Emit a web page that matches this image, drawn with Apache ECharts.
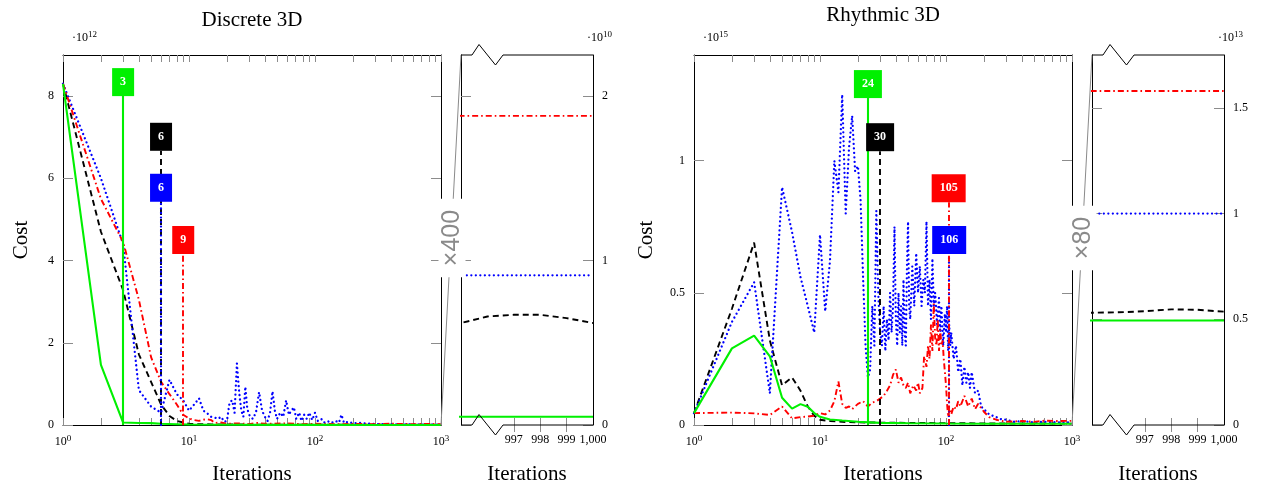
<!DOCTYPE html>
<html>
<head>
<meta charset="utf-8">
<script src="https://cdn.jsdelivr.net/npm/echarts@6/dist/echarts.min.js"></script>
<style>
  html, body { margin: 0; padding: 0; background: #fff; }
  #chart { width: 1265px; height: 492px; }
</style>
</head>
<body>
<div id="chart"></div>
<script>
// [iteration, cost]; Discrete 3D cost in 1e12, Rhythmic 3D cost in 1e15
const discreteBlack = [[1,8.3],[2,4.7],[3,3.28],[4,1.72],[5,1.05],[6,0.5],[7,0.22],[8,0.1],[9,0.06],[10,0.03],[12,0.02],[15,0.015],[20,0.012],[30,0.01],[50,0.009],[100,0.008],[300,0.007],[600,0.0065],
  [995,0.0062],[996,0.0066],[997,0.0067],[998,0.0067],[999,0.0065],[1000,0.0062]]
const discreteBlue = [[1,8.3],[2,6.0],[3,4.4],[4,0.85],[5,0.45],[6,0.3],[7,1.1],[8,0.75],[9,0.6],[10,0.35],[11,0.5],[12,0.65],[13,0.35],[14,0.28],[15,0.2],[16,0.18],[17,0.15],[18,0.2],[19,0.08],[20,0.1],
  [21,0.55],[22,0.6],[23,0.3],[24,1.5],[25,0.8],[26,0.35],[27,0.2],[28,0.93],[29,0.4],[30,0.25],[32,0.15],[34,0.3],[36,0.8],[38,0.35],[40,0.2],[42,0.1],[44,0.3],[46,0.82],[48,0.35],[50,0.15],
  [53,0.3],[56,0.2],[59,0.6],[62,0.25],[65,0.35],[68,0.43],[71,0.15],[75,0.3],[78,0.1],[82,0.25],[86,0.15],[90,0.3],[95,0.12],[100,0.3],[105,0.1],[112,0.15],[118,0.06],[125,0.1],[135,0.05],
  [145,0.1],[155,0.06],[162,0.25],[170,0.05],[185,0.08],[200,0.04],[230,0.05],[270,0.03],[320,0.02],[400,0.015],[600,0.012],[800,0.01],
  [995,0.0091],[996,0.0091],[997,0.0091],[998,0.0091],[999,0.0091],[1000,0.0091]]
const discreteRed = [[1,8.3],[2,5.5],[3,4.45],[4,3.05],[5,1.65],[6,1.05],[7,0.75],[8,0.5],[9,0.25],[10,0.16],[11,0.12],[12,0.1],[13,0.13],[14,0.14],[15,0.12],[16,0.05],[18,0.06],[20,0.03],[25,0.04],
  [30,0.02],[35,0.05],[40,0.03],[60,0.04],[80,0.02],[100,0.03],[150,0.02],[200,0.025],[300,0.02],[400,0.03],[600,0.02],[800,0.025],
  [995,0.0188],[996,0.0188],[997,0.0188],[998,0.0188],[999,0.0188],[1000,0.0188]]
const discreteGreen = [[1,8.3],[2,1.46],[3,0.06],[4,0.05],[5,0.045],[6,0.03],[8,0.02],[10,0.012],[20,0.006],[50,0.003],[100,0.002],[300,0.001],
  [995,0.0005],[996,0.0005],[997,0.0005],[998,0.0005],[999,0.0005],[1000,0.0005]]

const rhythmicBlack = [[1,0.045],[2,0.44],[3,0.69],[4,0.32],[5,0.15],[6,0.18],[7,0.13],[8,0.07],[9,0.035],[10,0.02],[12,0.015],[15,0.012],[20,0.01],[30,0.009],[50,0.008],[100,0.007],[200,0.006],[500,0.0055],
  [995,0.00531],[996,0.00533],[997,0.00538],[998,0.00547],[999,0.00545],[1000,0.00536]]
const rhythmicBlue = [[1,0.045],[2,0.39],[3,0.54],[4,0.12],[5,0.9],[6,0.73],[7,0.56],[8,0.45],[9,0.35],[10,0.72],[11,0.43],[12,0.62],[13,1.0],[14,0.88],[15,1.25],[16,0.8],[17,1.05],[18,1.17],[19,0.96],[20,0.98],
  [21,0.85],[22,0.55],[23,0.3],[24,0.18],[25,0.21],[26,0.45],[27,0.3],[28,0.81],[29,0.5],[30,0.35],[31,0.3],[32,0.45],[33,0.28],[34,0.4],[35,0.32],[36,0.5],[37,0.35],[38,0.45],[39,0.75],[40,0.4],
  [41,0.3],[42,0.5],[43,0.35],[44,0.45],[45,0.3],[46,0.55],[47,0.35],[48,0.3],[49,0.6],[50,0.77],[51,0.45],[52,0.4],[54,0.6],[56,0.45],[58,0.65],[60,0.5],[62,0.6],[64,0.45],[66,0.55],[68,0.5],
  [70,0.77],[72,0.45],[74,0.55],[76,0.4],[78,0.63],[80,0.45],[82,0.5],[85,0.38],[88,0.48],[90,0.35],[92,0.45],[95,0.3],[98,0.42],[100,0.35],[102,0.45],[104,0.28],[106,0.38],[108,0.3],[110,0.35],
  [115,0.25],[120,0.3],[125,0.2],[130,0.25],[135,0.15],[140,0.22],[145,0.16],[150,0.2],[155,0.14],[160,0.2],[170,0.12],[180,0.13],[190,0.07],[200,0.06],[220,0.04],[250,0.03],[280,0.02],[300,0.02],
  [350,0.012],[400,0.015],[500,0.01],[600,0.012],[800,0.01],
  [995,0.01],[996,0.01],[997,0.01],[998,0.01],[999,0.01],[1000,0.01]]
const rhythmicRed = [[1,0.045],[2,0.047],[3,0.044],[4,0.038],[5,0.07],[6,0.025],[7,0.03],[8,0.032],[9,0.035],[10,0.045],[11,0.04],[12,0.055],[13,0.09],[14,0.165],[15,0.08],[16,0.065],[17,0.07],[18,0.06],
  [20,0.08],[22,0.09],[24,0.07],[26,0.085],[28,0.09],[30,0.1],[32,0.11],[34,0.13],[36,0.15],[38,0.19],[40,0.21],[42,0.16],[44,0.18],[46,0.15],[48,0.14],[50,0.16],[52,0.12],[55,0.15],[58,0.13],
  [60,0.16],[62,0.12],[65,0.14],[67,0.26],[70,0.22],[72,0.3],[74,0.25],[76,0.38],[78,0.28],[80,0.46],[82,0.33],[84,0.3],[86,0.4],[88,0.28],[90,0.36],[92,0.3],[94,0.32],[96,0.25],[98,0.2],
  [100,0.15],[102,0.08],[104,0.03],[106,0.05],[108,0.06],[110,0.04],[115,0.07],[120,0.06],[125,0.09],[130,0.07],[140,0.11],[150,0.07],[160,0.1],[170,0.06],[180,0.08],[200,0.05],[220,0.03],
  [250,0.02],[300,0.012],[400,0.015],[500,0.012],[600,0.016],[800,0.015],
  [995,0.0158],[996,0.0158],[997,0.0158],[998,0.0158],[999,0.0158],[1000,0.0158]]
const rhythmicGreen = [[1,0.045],[2,0.29],[3,0.338],[4,0.26],[5,0.103],[6,0.062],[7,0.079],[8,0.069],[9,0.045],[10,0.031],[12,0.021],[15,0.017],[20,0.0125],[30,0.008],[50,0.0065],[100,0.0055],[200,0.005],[500,0.0049],
  [995,0.00494],[996,0.00494],[997,0.00494],[998,0.00494],[999,0.00494],[1000,0.00494]]

// convergence markers, order: black, blue, red, green
const discreteConv = [6, 6, 9, 3]
const discreteConvTop = [6.67, 5.43, 4.16, 8.0]
const rhythmicConv = [30, 106, 105, 24]
const rhythmicConvTop = [1.036, 0.647, 0.843, 1.237]

const discreteYTicks = [0, 2, 4, 6, 8]
const discreteInsetYTicks = [0, 0.01, 0.02]
const rhythmicYTicks = [0, 0.5, 1]
const rhythmicInsetYTicks = [0, 0.005, 0.01, 0.015]
const insetXTicks = [997, 998, 999, 1000]
const logLabels = [0, 1, 2, 3]

const FONT = "'Liberation Serif', 'Times New Roman', serif"
const SANS = "'Liberation Sans', 'DejaVu Sans', sans-serif"
const TICK = '#8c8c8c'

const grids = [
  { left: 63, top: 55, width: 378, height: 370 },
  { left: 461, top: 55, width: 132, height: 370 },
  { left: 694, top: 55, width: 378, height: 370 },
  { left: 1092, top: 55, width: 132, height: 370 }
]

// log-spaced minor tick positions (in decades)
const logTicks = []
for (let n = 0; n < 3; n++) {
  for (let k = 1; k < 10; k++) logTicks.push(n + Math.log10(k))
}
logTicks.push(3)

const supRich = { sup: { fontSize: 9, fontFamily: FONT, padding: [0, 0, 7, 0], color: '#000' } }
const nameStyle = { fontSize: 21, fontFamily: FONT, color: '#000' }

function frameAxis(grid, position, min, max, ticks, labels, formatter, extra) {
  return Object.assign({
    type: 'value', gridIndex: grid, position, min, max,
    axisLine: { show: true, onZero: false, lineStyle: { color: '#000', width: 1 } },
    axisTick: { show: true, inside: true, length: 8, customValues: ticks, lineStyle: { color: TICK } },
    axisLabel: labels
      ? { show: true, customValues: labels, formatter, margin: 9, color: '#000', fontFamily: FONT, fontSize: 12, rich: supRich }
      : { show: false },
    splitLine: { show: false }
  }, extra || {})
}

const logFmt = (v) => '10{sup|' + Math.round(v) + '}'
const xName = { name: 'Iterations', nameLocation: 'middle', nameGap: 39, nameTextStyle: nameStyle }
const insetFmt = (v) => (v === 1000 ? '1,000' : String(v))

const xAxis = [
  { type: 'log', gridIndex: 0, min: 1, max: 1000, logBase: 10, show: false },
  frameAxis(0, 'bottom', 0, 3, logTicks, logLabels, logFmt, xName),
  frameAxis(0, 'top', 0, 3, logTicks, null),
  frameAxis(1, 'bottom', 995, 1000, [997, 998, 999], insetXTicks, insetFmt, Object.assign({ axisLine: { show: false } }, xName)),
  frameAxis(1, 'top', 995, 1000, [997, 998, 999], null, null, { axisLine: { show: false } }),
  { type: 'log', gridIndex: 2, min: 1, max: 1000, logBase: 10, show: false },
  frameAxis(2, 'bottom', 0, 3, logTicks, logLabels, logFmt, xName),
  frameAxis(2, 'top', 0, 3, logTicks, null),
  frameAxis(3, 'bottom', 995, 1000, [997, 998, 999], insetXTicks, insetFmt, Object.assign({ axisLine: { show: false } }, xName)),
  frameAxis(3, 'top', 995, 1000, [997, 998, 999], null, null, { axisLine: { show: false } })
]
xAxis.forEach((a) => { if (a.axisTick) a.axisTick.length = 7 })

const pct = (v) => String(Math.round(v * 1000) / 10)
const yAxis = [
  frameAxis(0, 'left', 0, 9, discreteYTicks, discreteYTicks, (v) => String(v),
    { name: 'Cost', nameLocation: 'middle', nameGap: 31, nameTextStyle: nameStyle }),
  frameAxis(0, 'right', 0, 9, discreteYTicks, null),
  frameAxis(1, 'left', 0, 0.0225, discreteInsetYTicks, null),
  frameAxis(1, 'right', 0, 0.0225, discreteInsetYTicks, discreteInsetYTicks, pct),
  frameAxis(2, 'left', 0, 1.4, rhythmicYTicks, rhythmicYTicks, (v) => String(v),
    { name: 'Cost', nameLocation: 'middle', nameGap: 37, nameTextStyle: nameStyle }),
  frameAxis(2, 'right', 0, 1.4, rhythmicYTicks, null),
  frameAxis(3, 'left', 0, 0.0175, rhythmicInsetYTicks, null),
  frameAxis(3, 'right', 0, 0.0175, rhythmicInsetYTicks, rhythmicInsetYTicks, pct)
]
yAxis.forEach((a) => { a.axisTick.length = 10 })

// black dashed, blue dotted, red dash-dot, green solid
const styles = [
  { color: '#000000', type: [6, 4], width: 1.9, cap: 'butt' },
  { color: '#0000ff', type: [0.01, 4.5], width: 2.3, cap: 'round' },
  { color: '#ff0000', type: [6, 3, 1.6, 3], width: 1.9, cap: 'butt' },
  { color: '#00f000', type: 'solid', width: 2.1, cap: 'butt' }
]

function lineSeries(data, st, xi, yi, conv, convTop) {
  const s = {
    type: 'line', data, xAxisIndex: xi, yAxisIndex: yi,
    showSymbol: false, symbol: 'none', animation: false, silent: true, clip: true,
    lineStyle: { color: st.color, type: st.type, width: st.width, cap: st.cap }
  }
  if (conv != null) {
    s.markLine = {
      silent: true, animation: false, symbol: ['none', 'none'],
      lineStyle: { color: st.color, type: st.type, width: st.width, cap: st.cap },
      label: {
        show: true, position: 'end', distance: 0, formatter: String(conv),
        color: '#fff', backgroundColor: st.color, padding: [8, 8],
        fontFamily: FONT, fontSize: 12, fontWeight: 'bold'
      },
      emphasis: { disabled: true },
      data: [[{ coord: [conv, 0] }, { coord: [conv, convTop] }]]
    }
  }
  return s
}

const discrete = [discreteBlack, discreteBlue, discreteRed, discreteGreen]
const rhythmic = [rhythmicBlack, rhythmicBlue, rhythmicRed, rhythmicGreen]
const series = []
discrete.forEach((d, i) => {
  series.push(lineSeries(d, styles[i], 0, 0, discreteConv[i], discreteConvTop[i]))
  series.push(lineSeries(d, styles[i], 3, 2))
})
rhythmic.forEach((d, i) => {
  series.push(lineSeries(d, styles[i], 5, 4, rhythmicConv[i], rhythmicConvTop[i]))
  series.push(lineSeries(d, styles[i], 8, 6))
})

// decorations: titles, exponents, zoom connectors and axis breaks
function label(x, y, text, size, align, extra) {
  return {
    type: 'text', x, y, z: 120,
    style: Object.assign({ text, fontSize: size, fontFamily: FONT, fill: '#000', align: align || 'center', verticalAlign: 'middle' }, extra || {})
  }
}
const expRich = { sup: { fontSize: 9, fontFamily: FONT, fill: '#000', padding: [0, 0, 7, 0] } }
function zoomLink(main, inset, factor) {
  const x0 = main.left + main.width
  const x1 = inset.left
  const bottom = main.top + main.height
  return [
    { type: 'line', z: 110, shape: { x1: x0, y1: bottom, x2: x1, y2: inset.top }, style: { stroke: '#8a8a8a', lineWidth: 1 } },
    {
      type: 'text', z: 115, x: (x0 + x1) / 2 + 1, y: 238, rotation: Math.PI / 2,
      style: { text: factor, fontSize: 25, fontFamily: SANS, fill: '#8a8a8a', align: 'center', verticalAlign: 'middle', backgroundColor: '#fff', padding: [1, 11] }
    }
  ]
}
function breakEdges(g) {
  const l = g.left, r = g.left + g.width
  const edge = (y) => ({
    type: 'polyline', z: 110,
    shape: { points: [[l, y], [l + 11, y], [l + 18, y - 10.5], [l + 34.5, y + 10], [l + 42, y], [r, y]] },
    style: { stroke: '#000', lineWidth: 1, fill: null }
  })
  return [edge(g.top), edge(g.top + g.height)]
}

const graphic = [
  label(252, 20, 'Discrete 3D', 21),
  label(883, 15, 'Rhythmic 3D', 21),
  label(72, 38, '\u00b710{sup|12}', 12, 'left', { rich: expRich }),
  label(587, 38, '\u00b710{sup|10}', 12, 'left', { rich: expRich }),
  label(703, 38, '\u00b710{sup|15}', 12, 'left', { rich: expRich }),
  label(1218, 38, '\u00b710{sup|13}', 12, 'left', { rich: expRich })
].concat(zoomLink(grids[0], grids[1], '\u00d7400'), zoomLink(grids[2], grids[3], '\u00d780'),
  breakEdges(grids[1]), breakEdges(grids[3]))

const chart = echarts.init(document.getElementById('chart'))
chart.setOption({
  backgroundColor: '#fff',
  animation: false,
  grid: grids,
  xAxis,
  yAxis,
  series,
  graphic
})
</script>
</body>
</html>
